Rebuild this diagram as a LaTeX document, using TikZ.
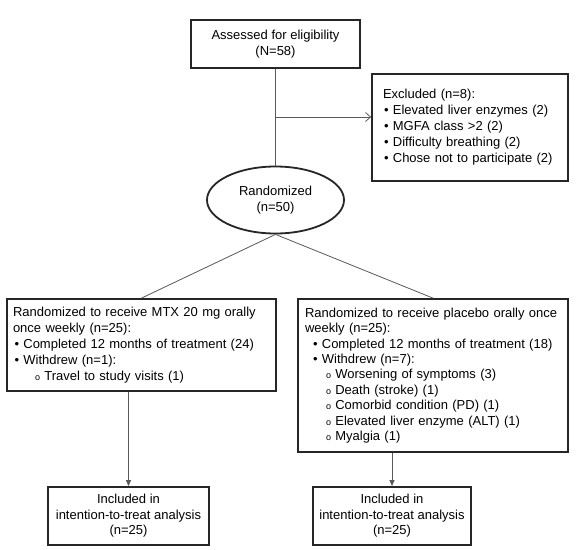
\documentclass[tikz,border=0pt]{standalone}
\usepackage{fontspec}
\setmainfont{Liberation Sans}
\usetikzlibrary{arrows.meta,shapes.geometric}
\newcommand{\subb}{{\fontsize{9}{9}\selectfont o}\ }
\begin{document}
\begin{tikzpicture}[x=1pt,y=-1pt,
  box/.style={draw=black!85, line width=1.8pt, inner ysep=0pt, font=\fontsize{13}{16}\selectfont},
  conn/.style={draw=black!65, line width=0.8pt}]
\useasboundingbox[fill=white] (0,0) rectangle (578,549);

\node[box, minimum width=169pt, minimum height=48pt, align=center] (assess) at (275.5,44) {Assessed for eligibility\\(N=58)};

\node[box, inner xsep=11pt, text width=174pt, minimum height=107pt, align=left] (excl) at (470,127.5)
 {Excluded (n=8):\\
  \hspace*{1pt}\textbullet\ Elevated liver enzymes (2)\\
  \hspace*{1pt}\textbullet\ MGFA class >2 (2)\\
  \hspace*{1pt}\textbullet\ Difficulty breathing (2)\\
  \hspace*{1pt}\textbullet\ Chose not to participate (2)};

\node[ellipse, draw=black!85, line width=1.8pt, minimum width=137pt, minimum height=67pt, inner sep=0pt, align=center, font=\fontsize{13}{15.5}\selectfont] (rand) at (275.5,200) {Randomized\\(n=50)};

\node[box, inner xsep=6pt, text width=257pt, minimum height=92pt, align=left] (left) at (141.5,345)
 {Randomized to receive MTX 20 mg orally\\
  once weekly (n=25):\\
  \hspace*{1.5pt}\textbullet\ Completed 12 months of treatment (24)\\
  \hspace*{1.5pt}\textbullet\ Withdrew (n=1):\\
  \hspace*{22pt}\subb Travel to study visits (1)};

\node[box, inner xsep=4pt, text width=262pt, minimum height=153pt, align=left, font=\fontsize{13}{15.4}\selectfont] (right) at (433,375.5)
 {\hspace*{3pt}Randomized to receive placebo orally once\\
  \hspace*{3pt}weekly (n=25):\\
  \hspace*{11pt}\textbullet\ Completed 12 months of treatment (18)\\
  \hspace*{11pt}\textbullet\ Withdrew (n=7):\\
  \hspace*{24pt}\subb Worsening of symptoms (3)\\
  \hspace*{24pt}\subb Death (stroke) (1)\\
  \hspace*{24pt}\subb Comorbid condition (PD) (1)\\
  \hspace*{24pt}\subb Elevated liver enzyme (ALT) (1)\\
  \hspace*{24pt}\subb Myalgia (1)};

\node[box, minimum width=161pt, minimum height=58pt, align=center, font=\fontsize{13}{15.5}\selectfont] (bl) at (128.5,516)
 {Included in\\intention-to-treat analysis\\(n=25)};
\node[box, minimum width=158pt, minimum height=58pt, align=center, font=\fontsize{13}{15.5}\selectfont] (br) at (392,516)
 {Included in\\intention-to-treat analysis\\(n=25)};

\coordinate (branch) at (275.5,117);
\draw[conn] (assess.south) -- (rand.north);
\draw[conn,-{Straight Barb[length=5pt,width=9pt]}] (branch) -- (branch -| excl.west);
\draw[conn] (rand.south) -- (left.north);
\draw[conn] (rand.south) -- (right.north);
\draw[conn,-{Triangle[length=6pt,width=5pt]}] (bl.north |- left.south) -- (bl.north);
\draw[conn,-{Triangle[length=6pt,width=5pt]}] (br.north |- right.south) -- (br.north);
\end{tikzpicture}
\end{document}
